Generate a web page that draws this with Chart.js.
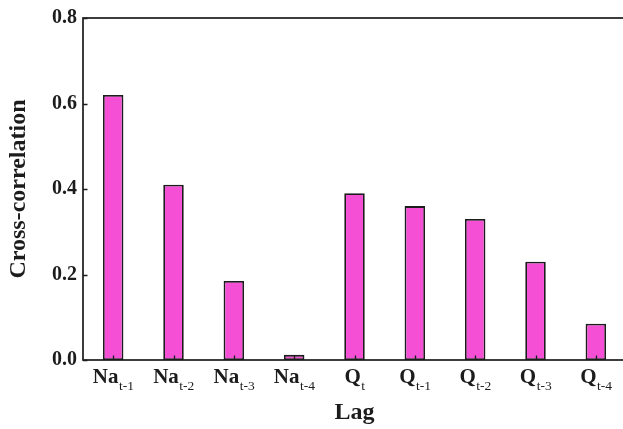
<!DOCTYPE html>
<html>
<head>
<meta charset="utf-8">
<script src="https://cdn.jsdelivr.net/npm/chart.js@4/dist/chart.umd.min.js"></script>
<style>
  html, body { margin: 0; padding: 0; overflow: hidden; background: #ffffff; }
  #wrap { width: 623px; height: 429px; overflow: hidden; }
  canvas { display: block; }
</style>
</head>
<body>
<div id="wrap"><canvas id="chart" width="640" height="429"></canvas></div>
<script>
// Lagged predictors: variable name and lag subscript
const lagVars  = ['Na', 'Na', 'Na', 'Na', 'Q', 'Q', 'Q', 'Q', 'Q'];
const lagSteps = ['t-1', 't-2', 't-3', 't-4', 't', 't-1', 't-2', 't-3', 't-4'];
const categories = lagVars.map((v, i) => v + ' ' + lagSteps[i]);

// Cross-correlation of each lagged predictor
const crossCorr = [0.62, 0.41, 0.185, 0.012, 0.39, 0.36, 0.33, 0.23, 0.085];

// Y axis ticks
const yTicks = [0.0, 0.2, 0.4, 0.6, 0.8];

const SERIF = '"Liberation Serif", "DejaVu Serif", serif';
const INK = '#1c1c1c';

// Frame, inward tick marks and subscripted category labels
const framePlugin = {
  id: 'frame',
  afterDatasetsDraw(chart) {
    const { ctx, chartArea: a, scales: { x, y } } = chart;
    ctx.save();
    ctx.strokeStyle = INK;
    ctx.lineWidth = 1.7;
    ctx.strokeRect(a.left, a.top, a.right - a.left, a.bottom - a.top);

    ctx.lineWidth = 1.3;
    ctx.beginPath();
    y.ticks.forEach(t => {
      const py = Math.round(y.getPixelForValue(t.value)) + 0.5;
      ctx.moveTo(a.left, py);
      ctx.lineTo(a.left + 4.5, py);
    });
    x.ticks.forEach((t, i) => {
      const px = Math.round(x.getPixelForTick(i)) + 0.5;
      ctx.moveTo(px, a.bottom);
      ctx.lineTo(px, a.bottom - 4.5);
    });
    ctx.stroke();

    ctx.fillStyle = INK;
    ctx.textBaseline = 'alphabetic';
    ctx.textAlign = 'left';
    const mainFont = 'bold 21px ' + SERIF;
    const subFont = '13.5px ' + SERIF;
    lagVars.forEach((v, i) => {
      const cx = x.getPixelForTick(i);
      ctx.font = mainFont;
      const w1 = ctx.measureText(v).width;
      ctx.font = subFont;
      const w2 = ctx.measureText(lagSteps[i]).width;
      const x0 = cx - (w1 + w2) / 2;
      ctx.font = mainFont;
      ctx.fillText(v, x0, a.bottom + 23);
      ctx.font = subFont;
      ctx.fillText(lagSteps[i], x0 + w1 + 0.5, a.bottom + 30);
    });
    ctx.restore();
  }
};

new Chart(document.getElementById('chart'), {
  type: 'bar',
  data: {
    labels: categories,
    datasets: [{
      data: crossCorr,
      backgroundColor: '#f54fd6',
      borderColor: INK,
      borderWidth: 1.8,
      borderSkipped: false,
      barPercentage: 0.34,
      categoryPercentage: 1.0
    }]
  },
  options: {
    responsive: false,
    animation: false,
    devicePixelRatio: 1,
    layout: { padding: { top: 18, right: 14, bottom: 0, left: 0 } },
    plugins: { legend: { display: false }, tooltip: { enabled: false } },
    scales: {
      x: {
        grid: { display: false, drawTicks: false },
        border: { display: false },
        ticks: { display: false },
        title: {
          display: true,
          text: 'Lag',
          color: INK,
          font: { family: SERIF, size: 24, weight: 'bold' },
          padding: { top: 0, bottom: 2 }
        },
        afterFit(scale) { scale.height = 69; }
      },
      y: {
        min: 0,
        max: 0.8,
        afterBuildTicks(scale) { scale.ticks = yTicks.map(v => ({ value: v })); },
        grid: { display: false, drawTicks: false },
        border: { display: false },
        ticks: {
          color: INK,
          padding: 6,
          font: { family: SERIF, size: 20, weight: 'bold' },
          callback: v => Number(v).toFixed(1)
        },
        title: {
          display: true,
          text: 'Cross-correlation',
          color: INK,
          font: { family: SERIF, size: 24, weight: 'bold' },
          padding: { top: 4, bottom: 0 }
        },
        afterFit(scale) { scale.width = 83; }
      }
    }
  },
  plugins: [framePlugin]
});
</script>
</body>
</html>
